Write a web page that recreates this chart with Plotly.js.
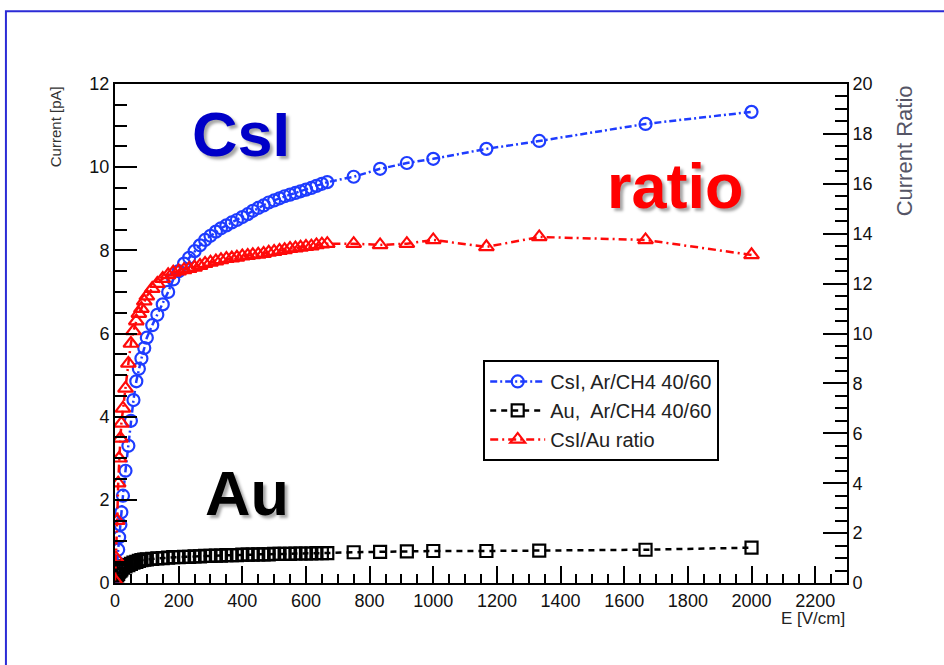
<!DOCTYPE html>
<html>
<head>
<meta charset="utf-8">
<script src="https://cdn.plot.ly/plotly-3.0.1.min.js"></script>
<style>
  html, body { margin: 0; padding: 0; background: #fff; }
  #chart { width: 944px; height: 665px; }
</style>
</head>
<body>
<div id="chart"></div>
<script>
// Electric field E [V/cm]
const eField = [0, 3, 7, 10, 13, 17, 20, 25, 33, 42, 50, 58, 67, 75, 83, 92, 100, 117, 133, 150, 167, 183, 200,
  217, 233, 250, 267, 283, 300, 317, 333, 350, 367, 383, 400, 417, 433, 450, 467, 483, 500, 517, 533,
  550, 567, 583, 600, 617, 633, 650, 667, 750, 833, 917, 1000, 1167, 1333, 1667, 2000];

// CsI photocathode current [pA], Ar/CH4 40/60
const csiCurrent = [0.15, 0.3, 0.5, 0.8, 1.1, 1.4, 1.7, 2.1, 2.7, 3.3, 3.9, 4.4, 4.85, 5.15, 5.4, 5.65, 5.9, 6.2, 6.45, 6.7, 7.0, 7.3, 7.5,
  7.68, 7.82, 7.98, 8.12, 8.25, 8.35, 8.45, 8.53, 8.6, 8.67, 8.73, 8.8, 8.87, 8.95, 9.02, 9.08, 9.15, 9.2, 9.25, 9.3,
  9.34, 9.38, 9.42, 9.46, 9.5, 9.55, 9.6, 9.64, 9.77, 9.96, 10.1, 10.2, 10.44, 10.63, 11.04, 11.33];

// Au current [pA], Ar/CH4 40/60
const auCurrent = [0.02, 0.1, 0.18, 0.22, 0.27, 0.3, 0.33, 0.37, 0.4, 0.43, 0.46, 0.49, 0.51, 0.53, 0.55, 0.56, 0.57, 0.58, 0.59, 0.6, 0.61, 0.62, 0.62,
  0.63, 0.63, 0.64, 0.64, 0.65, 0.65, 0.66, 0.66, 0.67, 0.67, 0.67, 0.68, 0.68, 0.68, 0.69, 0.69, 0.69, 0.7, 0.7, 0.7,
  0.7, 0.71, 0.71, 0.71, 0.71, 0.72, 0.72, 0.72, 0.74, 0.75, 0.76, 0.77, 0.77, 0.78, 0.8, 0.85];

// CsI/Au current ratio
const ratio = [0.1, 1.0, 2.5, 4.0, 5.0, 5.8, 6.4, 7.0, 7.8, 8.8, 9.6, 10.1, 10.5, 10.8, 11.0, 11.3, 11.5, 11.8, 12.0, 12.2, 12.35, 12.45, 12.5,
  12.55, 12.6, 12.65, 12.72, 12.8, 12.85, 12.9, 12.95, 13.0, 13.02, 13.05, 13.1, 13.12, 13.15, 13.17, 13.2, 13.25, 13.28, 13.32, 13.35,
  13.4, 13.42, 13.45, 13.48, 13.5, 13.55, 13.58, 13.6, 13.6, 13.55, 13.6, 13.75, 13.47, 13.87, 13.75, 13.15];

const seriesNames = ['CsI, Ar/CH4 40/60', 'Au,  Ar/CH4 40/60', 'CsI/Au ratio'];

const BLUE = '#1e3cff';
const RED = '#ff0a0a';
const BLACK = '#000000';

const traces = [
  {
    x: eField, y: csiCurrent, name: seriesNames[0], type: 'scatter', mode: 'lines+markers',
    yaxis: 'y', legendgroup: 'a',
    line: { color: BLUE, width: 2.5, dash: '7px,3px,2px,3px' },
    marker: { symbol: 'circle-open', size: 12, color: BLUE, line: { width: 2.2, color: BLUE } }
  },
  {
    x: eField, y: auCurrent, name: seriesNames[1], type: 'scatter', mode: 'lines+markers',
    yaxis: 'y', legendgroup: 'b',
    line: { color: BLACK, width: 2.5, dash: '6px,5px' },
    marker: { symbol: 'square-open', size: 12, color: BLACK, line: { width: 2.2, color: BLACK } }
  },
  {
    x: eField, y: ratio, name: seriesNames[2], type: 'scatter', mode: 'lines+markers',
    yaxis: 'y2', legendgroup: 'c',
    line: { color: RED, width: 2.5, dash: '8px,4px,2px,4px' },
    marker: { symbol: 'triangle-up-open', size: 13, color: RED, line: { width: 2.2, color: RED } }
  }
];

const tickFont = { family: 'Liberation Sans, Arial, sans-serif', size: 18, color: '#111' };

const layout = {
  width: 944, height: 665,
  margin: { l: 115, r: 97, t: 84, b: 82 },
  paper_bgcolor: '#ffffff', plot_bgcolor: '#ffffff',
  font: { family: 'Liberation Sans, Arial, sans-serif', color: '#111' },
  showlegend: true,
  legend: {
    x: 0.503, y: 0.447, xanchor: 'left', yanchor: 'top',
    bgcolor: '#ffffff', bordercolor: '#000', borderwidth: 2,
    font: { size: 20, color: '#222' },
    tracegroupgap: 0, itemwidth: 55
  },
  xaxis: {
    range: [0, 2300], dtick: 200, tick0: 0,
    showgrid: false, zeroline: false,
    showline: true, linecolor: '#000', linewidth: 2, mirror: true,
    ticks: 'inside', ticklen: 17, tickwidth: 2, tickcolor: '#000',
    minor: { dtick: 50, ticks: 'inside', ticklen: 9, tickwidth: 2, tickcolor: '#000' },
    tickfont: tickFont
  },
  yaxis: {
    range: [0, 12], dtick: 2, tick0: 0,
    showgrid: false, zeroline: false,
    showline: true, linecolor: '#000', linewidth: 2,
    ticks: 'inside', ticklen: 22, tickwidth: 2, tickcolor: '#000',
    minor: { dtick: 0.5, ticks: 'inside', ticklen: 12, tickwidth: 2, tickcolor: '#000' },
    tickfont: tickFont
  },
  yaxis2: {
    range: [0, 20], dtick: 2, tick0: 0, overlaying: 'y', side: 'right',
    showgrid: false, zeroline: false,
    showline: true, linecolor: '#000', linewidth: 2,
    ticks: 'inside', ticklen: 24, tickwidth: 2, tickcolor: '#000',
    minor: { dtick: 0.5, ticks: 'inside', ticklen: 12, tickwidth: 2, tickcolor: '#000' },
    tickfont: tickFont
  },
  shapes: [
    { type: 'rect', xref: 'paper', yref: 'paper', x0: -0.149, x1: 1.6, y0: -0.5, y1: 1.146,
      line: { color: '#2b2bd6', width: 2 }, fillcolor: 'rgba(0,0,0,0)', layer: 'below' }
  ],
  annotations: [
    { text: 'Current [pA]', xref: 'paper', yref: 'paper', x: -0.081, y: 1.0, xanchor: 'center', yanchor: 'top',
      textangle: -90, showarrow: false, font: { size: 15, color: '#333' } },
    { text: 'Current Ratio', xref: 'paper', yref: 'paper', x: 1.079, y: 1.002, xanchor: 'center', yanchor: 'top',
      textangle: -90, showarrow: false, font: { size: 22, color: '#556' } },
    { text: 'E [V/cm]', xref: 'paper', yref: 'paper', x: 1.0, y: -0.072, xanchor: 'right', yanchor: 'middle',
      showarrow: false, font: { size: 17, color: '#222' } },
    { text: '<b>CsI</b>', xref: 'paper', yref: 'paper', x: 0.172, y: 0.90, xanchor: 'center', yanchor: 'middle',
      showarrow: false, font: { size: 63, color: '#0000c8', family: 'Liberation Sans, Arial, sans-serif', shadow: '3px 3px 3px rgba(0,0,0,0.35)' } },
    { text: '<b>ratio</b>', xref: 'paper', yref: 'paper', x: 0.766, y: 0.795, xanchor: 'center', yanchor: 'middle',
      showarrow: false, font: { size: 63, color: '#ff0000', family: 'Liberation Sans, Arial, sans-serif', shadow: '3px 3px 3px rgba(0,0,0,0.35)' } },
    { text: '<b>Au</b>', xref: 'paper', yref: 'paper', x: 0.180, y: 0.18, xanchor: 'center', yanchor: 'middle',
      showarrow: false, font: { size: 63, color: '#000000', family: 'Liberation Sans, Arial, sans-serif', shadow: '3px 3px 3px rgba(0,0,0,0.35)' } }
  ]
};

Plotly.newPlot('chart', traces, layout, { displayModeBar: false, staticPlot: true });
</script>
</body>
</html>
